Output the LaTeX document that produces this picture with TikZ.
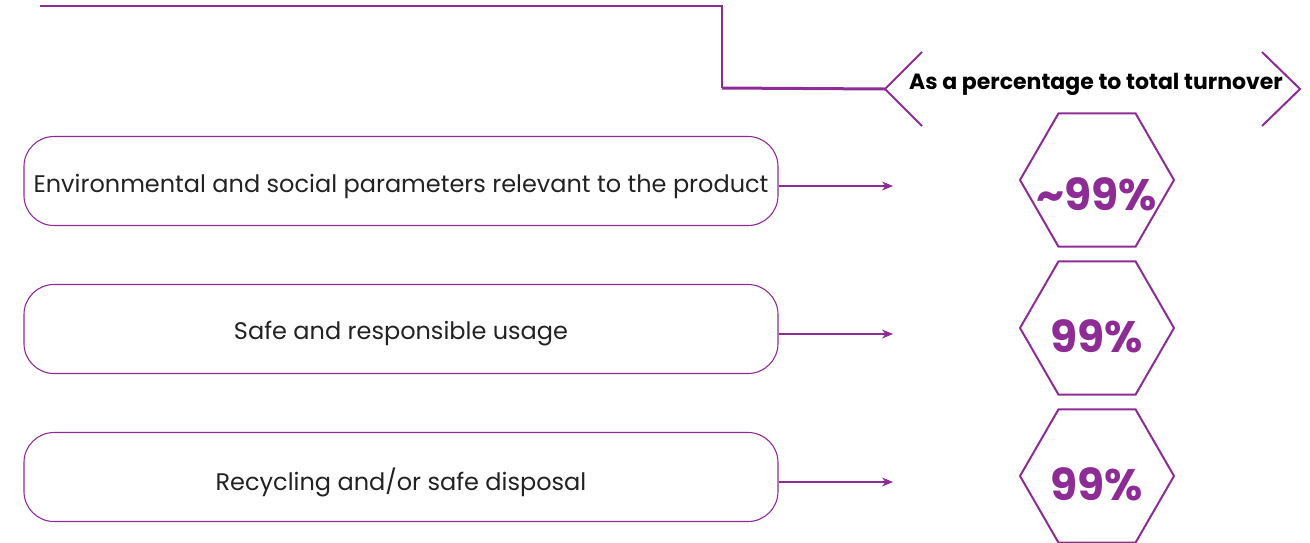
\documentclass[tikz,border=0pt]{standalone}
\usepackage{fontspec}
\setmainfont{Poppins}
\usetikzlibrary{arrows.meta,shapes.geometric}
\definecolor{brandpurple}{HTML}{8E2C96}
\definecolor{textdark}{HTML}{222222}
\begin{document}
\begin{tikzpicture}[x=1pt, y=-1pt,
  every node/.style={font=\fontsize{24}{28}\selectfont, text=textdark},
  topicbox/.style={draw=brandpurple, line width=1.1pt, rounded corners=30pt, minimum width=754pt, minimum height=89pt, inner sep=0pt},
  hexbox/.style={draw=brandpurple, line width=2pt, regular polygon, regular polygon sides=6, minimum size=154pt, inner sep=0pt},
  hexval/.style={text=brandpurple, font=\fontsize{44}{48}\selectfont\bfseries},
  link/.style={draw=brandpurple, line width=1.1pt, -{Stealth[length=11pt,width=9pt]}},
  rail/.style={draw=brandpurple, line width=1.4pt},
  chevron/.style={draw=brandpurple, line width=2pt}]
\useasboundingbox (0,0) rectangle (1310,542);
% header
\node[font=\fontsize{22}{26}\selectfont\bfseries, text=black] (hdr) at (1096,84) {As a percentage to total turnover};
\coordinate (tl) at (40,6);
\coordinate (tc) at (722,6);
\coordinate (tb) at (722,88);
\coordinate (hl) at (885,89);
\draw[rail] (tl) -- (tc) -- (tb);
\draw[chevron, line width=3pt] (tb) -- (hl);
\draw[chevron] (922,52) -- (hl) -- (922,126);
\draw[chevron] (1262,52) -- (1300,89) -- (1262,126);
% topics
\node[topicbox] (envbox) at (401,181) {};
\node[topicbox] (usebox) at (401,329) {};
\node[topicbox] (recbox) at (401,477) {};
\node (envtxt) at ([yshift=-5pt]envbox.center) {Environmental and social parameters relevant to the product};
\node (usetxt) at ([yshift=-5pt]usebox.center) {Safe and responsible usage};
\node (rectxt) at ([yshift=-5pt]recbox.center) {Recycling and/or safe disposal};
% values
\node[hexbox] (envhex) at (1097,180) {};
\node[hexbox] (usehex) at (1097,328) {};
\node[hexbox] (rechex) at (1097,476) {};
\node[hexval] (envval) at ([yshift=-14pt]envhex.center) {\textasciitilde 99\%};
\node[hexval] (useval) at ([yshift=-8pt]usehex.center) {99\%};
\node[hexval] (recval) at ([yshift=-8pt]rechex.center) {99\%};
% arrows
\coordinate (envend) at (893,186);
\coordinate (useend) at (893,334);
\coordinate (recend) at (893,482);
\draw[link] (envbox.east |- envend) -- (envend);
\draw[link] (usebox.east |- useend) -- (useend);
\draw[link] (recbox.east |- recend) -- (recend);
\end{tikzpicture}
\end{document}
